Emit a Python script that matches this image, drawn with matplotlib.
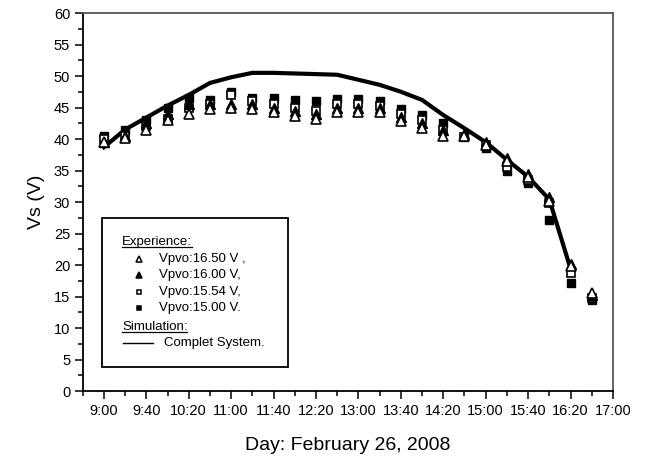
import numpy as np
import matplotlib.pyplot as plt
from matplotlib.ticker import MultipleLocator, FixedLocator
from matplotlib.patches import Rectangle

plt.rcParams['font.family'] = ['Liberation Sans', 'DejaVu Sans']

# measurement times (every 20 min)
times = ["9:00", "9:20", "9:40", "10:00", "10:20", "10:40", "11:00", "11:20",
         "11:40", "12:00", "12:20", "12:40", "13:00", "13:20", "13:40", "14:00",
         "14:20", "14:40", "15:00", "15:20", "15:40", "16:00", "16:20", "16:40"]

# experience, Vs (V)
vpvo_1650 = [39.5, 40.2, 41.5, 43.0, 44.0, 44.8, 45.0, 44.7, 44.3, 43.7, 43.2, 44.3,
             44.3, 44.3, 42.8, 41.8, 40.5, 40.5, 39.0, 36.5, 34.0, 30.2, 19.8, 15.5]
vpvo_1600 = [39.5, 40.5, 42.5, 44.0, 45.5, 45.5, 45.5, 45.5, 45.0, 44.5, 44.0, 45.0,
             45.0, 45.0, 43.5, 42.5, 41.5, 40.8, 39.5, 37.0, 34.5, 30.8, 20.2, 15.2]
vpvo_1554 = [40.0, 40.5, 42.0, 43.2, 45.0, 45.5, 47.0, 46.0, 45.5, 45.0, 44.5, 45.5,
             45.5, 45.3, 44.0, 43.0, 41.5, 40.3, 39.0, 35.5, 33.5, 29.8, 18.7, 14.8]
vpvo_1500 = [40.5, 41.5, 43.0, 45.0, 46.5, 46.2, 47.5, 46.5, 46.5, 46.2, 46.0, 46.3,
             46.3, 46.0, 44.8, 43.8, 42.5, 40.3, 38.5, 35.0, 33.0, 27.1, 17.2, 14.5]

# simulation, complete system
sim_times = times[:23]
sim_vs = [38.7, 41.5, 43.4, 45.3, 47.0, 48.9, 49.8, 50.5, 50.5, 50.4, 50.3, 50.2,
          49.4, 48.6, 47.5, 46.2, 43.8, 41.7, 39.5, 36.7, 34.0, 30.4, 19.4]

tick_labels = ["9:00", "9:40", "10:20", "11:00", "11:40", "12:20", "13:00",
               "13:40", "14:20", "15:00", "15:40", "16:20", "17:00"]


def to_min(t):
    h, m = t.split(":")
    return int(h) * 60 + int(m)


x = np.array([to_min(t) for t in times])
xs = np.array([to_min(t) for t in sim_times])

fig = plt.figure(figsize=(6.49, 4.61), dpi=100)
ax = fig.add_axes([0.1274, 0.1518, 0.8171, 0.82])

ax.plot(xs, sim_vs, color='black', lw=3.0, zorder=2)
ax.plot(x, vpvo_1500, 's', ms=5.5, mfc='black', mec='black', zorder=3)
ax.plot(x, vpvo_1554, 's', ms=5.5, mfc='white', mec='black', mew=1.2, zorder=3)
ax.plot(x, vpvo_1600, '^', ms=6.5, mfc='black', mec='black', zorder=4)
ax.plot(x, vpvo_1650, '^', ms=6.5, mfc='white', mec='black', mew=1.2, zorder=4)

ax.set_xlim(to_min("8:40"), to_min("17:00"))
ax.set_ylim(0, 60)
ax.xaxis.set_major_locator(FixedLocator([to_min(t) for t in tick_labels]))
ax.set_xticklabels(tick_labels)
ax.xaxis.set_minor_locator(MultipleLocator(20))
ax.yaxis.set_major_locator(MultipleLocator(5))
ax.yaxis.set_minor_locator(MultipleLocator(2.5))
ax.tick_params(which='major', direction='out', length=6, width=1.1, labelsize=10.5, pad=3)
ax.tick_params(which='minor', direction='out', length=3.5, width=1.1)

for s in ['left', 'bottom']:
    ax.spines[s].set_linewidth(1.3)
for s in ['top', 'right']:
    ax.spines[s].set_color('#555555')
    ax.spines[s].set_linewidth(1.3)

ax.set_ylabel("Vs (V)", fontsize=14, labelpad=6)
ax.set_xlabel("Day: February 26, 2008", fontsize=14, labelpad=14)

# legend box drawn by hand (headers are underlined)
tr = ax.transAxes
ax.add_patch(Rectangle((0.036, 0.0635), 0.351, 0.394, transform=tr, fill=False,
                       lw=1.3, edgecolor='black', zorder=5))
fs = 9.5
hdr1 = ax.text(0.074, 0.394, "Experience:", transform=tr, fontsize=fs, va='center')
hdr2 = ax.text(0.074, 0.169, "Simulation:", transform=tr, fontsize=fs, va='center')
rows = [0.349, 0.307, 0.262, 0.220]
labels = ["Vpvo:16.50 V ,", "Vpvo:16.00 V,", "Vpvo:15.54 V,", "Vpvo:15.00 V."]
styles = [('^', 'white', 5), ('^', 'black', 5), ('s', 'white', 3.5), ('s', 'black', 3.5)]
for yy, lab, (mk, fc, ms) in zip(rows, labels, styles):
    ax.plot([0.106], [yy], mk, ms=ms, mfc=fc, mec='black', mew=1.1, transform=tr,
            clip_on=False, zorder=6)
    ax.text(0.144, yy, lab, transform=tr, fontsize=fs, va='center')
ax.plot([0.076, 0.133], [0.127, 0.127], color='black', lw=1.0, transform=tr, zorder=6)
ax.text(0.153, 0.127, "Complet System.", transform=tr, fontsize=fs, va='center')

fig.canvas.draw()
inv = tr.inverted()
for t in (hdr1, hdr2):
    bb = t.get_window_extent()
    (x0, y0), (x1, y1) = inv.transform([(bb.x0, bb.y0), (bb.x1, bb.y1)])
    ax.plot([x0, x1], [y0 + 0.003, y0 + 0.003], color='black', lw=0.9,
            transform=tr, zorder=6)

fig.savefig("out.png", dpi=100)
